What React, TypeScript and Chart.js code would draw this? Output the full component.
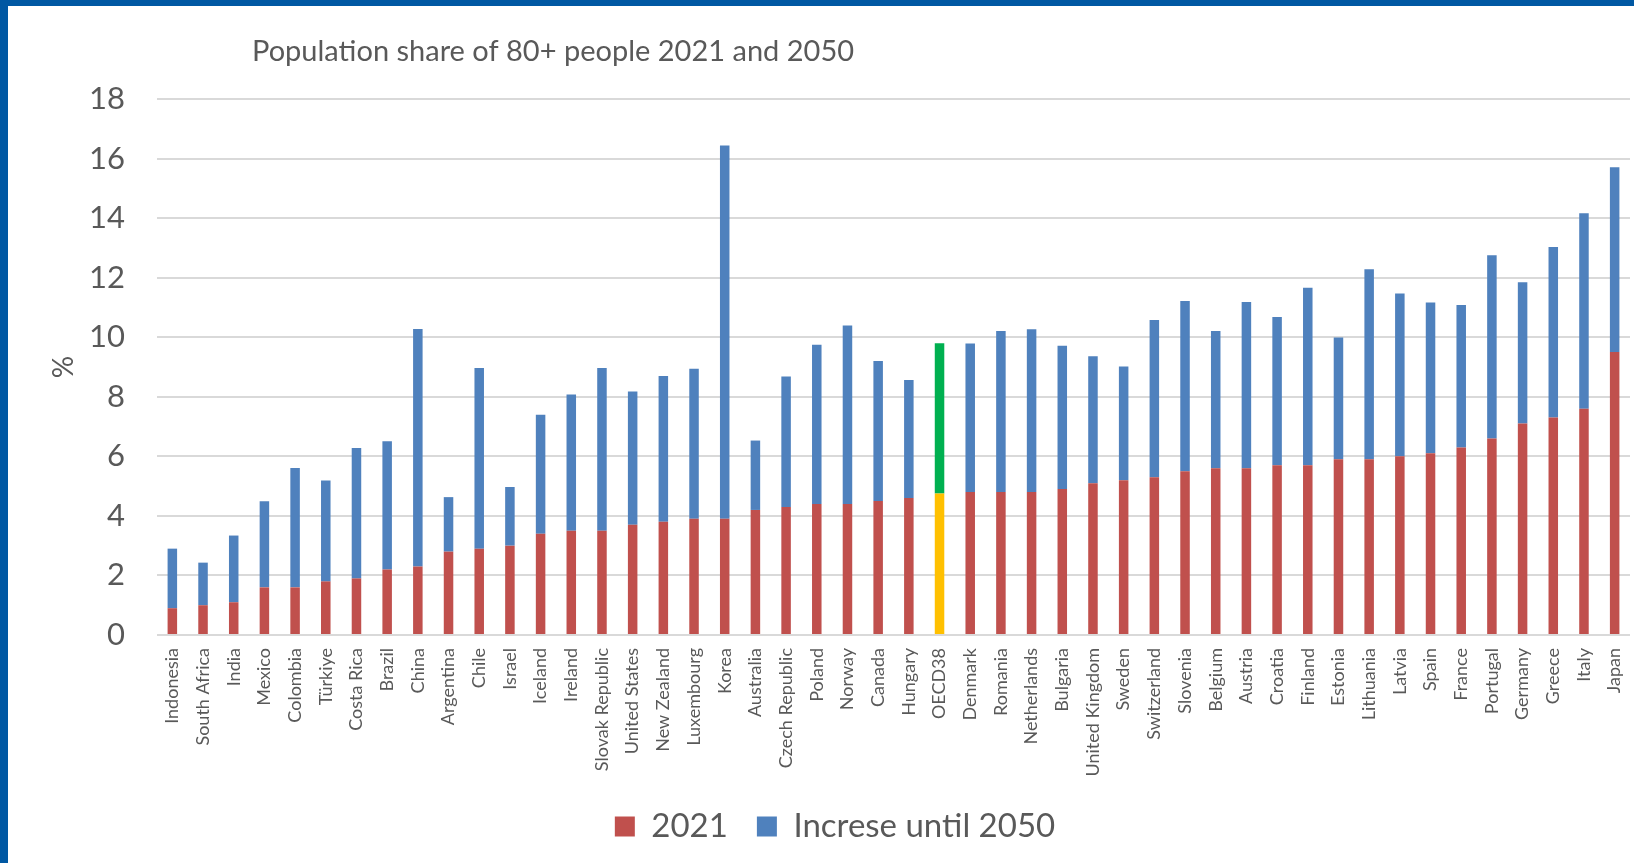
import React, { useEffect, useRef } from 'react';
import { Chart, registerables } from 'chart.js';

Chart.register(...registerables);

const TITLE = 'Population share of 80+ people 2021 and 2050';

const categories = [
  'Indonesia', 'South Africa', 'India', 'Mexico', 'Colombia', 'Türkiye', 'Costa Rica', 'Brazil',
  'China', 'Argentina', 'Chile', 'Israel', 'Iceland', 'Ireland', 'Slovak Republic', 'United States',
  'New Zealand', 'Luxembourg', 'Korea', 'Australia', 'Czech Republic', 'Poland', 'Norway', 'Canada',
  'Hungary', 'OECD38', 'Denmark', 'Romania', 'Netherlands', 'Bulgaria', 'United Kingdom', 'Sweden',
  'Switzerland', 'Slovenia', 'Belgium', 'Austria', 'Croatia', 'Finland', 'Estonia', 'Lithuania',
  'Latvia', 'Spain', 'France', 'Portugal', 'Germany', 'Greece', 'Italy', 'Japan',
];

const share2021 = [
  0.9, 1.0, 1.1, 1.6, 1.6, 1.8, 1.9, 2.2,
  2.3, 2.8, 2.9, 3.0, 3.4, 3.5, 3.5, 3.7,
  3.8, 3.9, 3.9, 4.2, 4.3, 4.4, 4.4, 4.5,
  4.6, 4.75, 4.8, 4.8, 4.8, 4.9, 5.1, 5.2,
  5.3, 5.5, 5.6, 5.6, 5.7, 5.7, 5.9, 5.9,
  6.0, 6.1, 6.3, 6.6, 7.1, 7.3, 7.6, 9.5,
];

const increaseUntil2050 = [
  2.0, 1.43, 2.24, 2.89, 4.01, 3.39, 4.38, 4.31,
  7.98, 1.83, 6.07, 1.97, 4.0, 4.58, 5.47, 4.48,
  4.9, 5.04, 12.54, 2.33, 4.38, 5.35, 5.99, 4.7,
  3.96, 5.05, 4.99, 5.41, 5.47, 4.81, 4.26, 3.82,
  5.28, 5.72, 4.61, 5.58, 4.98, 5.96, 4.09, 6.38,
  5.47, 5.07, 4.78, 6.15, 4.75, 5.73, 6.56, 6.21,
];

const yMin = 0;
const yMax = 18;
const yStep = 2;

const seriesNames = ['2021', 'Increse until 2050'];

const TEXT = '#595959';
const RED = '#C0504D';
const BLUE = '#4F81BD';
const YELLOW = '#FFC000';
const GREEN = '#00B050';
const HIGHLIGHT = 'OECD38';
const FONT = 'Lato, "Open Sans", sans-serif';

const titlePlugin = {
  id: 'customTitle',
  afterDraw(chart: any) {
    const ctx = chart.ctx;
    ctx.save();
    ctx.font = `29px ${FONT}`;
    ctx.fillStyle = TEXT;
    ctx.textBaseline = 'middle';
    ctx.textAlign = 'left';
    ctx.fillText(TITLE, 252, 52);
    ctx.restore();
  },
};

export default function App() {
  const canvasRef = useRef<HTMLCanvasElement | null>(null);

  useEffect(() => {
    if (!canvasRef.current) return;
    const chart = new Chart(canvasRef.current, {
      type: 'bar',
      data: {
        labels: categories,
        datasets: [
          {
            label: seriesNames[0],
            data: share2021,
            backgroundColor: (c: any) => (categories[c.dataIndex] === HIGHLIGHT ? YELLOW : RED),
            borderWidth: 0,
            barPercentage: 0.31,
            categoryPercentage: 1,
          },
          {
            label: seriesNames[1],
            data: increaseUntil2050,
            backgroundColor: (c: any) => (categories[c.dataIndex] === HIGHLIGHT ? GREEN : BLUE),
            borderWidth: 0,
            barPercentage: 0.31,
            categoryPercentage: 1,
          },
        ],
      },
      options: {
        animation: false,
        responsive: false,
        maintainAspectRatio: false,
        devicePixelRatio: 1,
        layout: { padding: { left: 40, right: 4, top: 99, bottom: 10 } },
        plugins: {
          title: { display: false },
          tooltip: { enabled: false },
          legend: {
            position: 'bottom',
            labels: {
              color: TEXT,
              font: { family: FONT, size: 33 },
              boxWidth: 20,
              boxHeight: 20,
              padding: 29,
            },
          },
        },
        scales: {
          x: {
            stacked: true,
            grid: { display: false, drawTicks: false },
            border: { display: false },
            ticks: {
              autoSkip: false,
              maxRotation: 90,
              minRotation: 90,
              padding: 13,
              color: TEXT,
              font: { family: FONT, size: 18 },
            },
            afterFit: (s: any) => {
              s.height = 146;
              s.paddingLeft = 0;
              s.paddingRight = 0;
            },
          },
          y: {
            stacked: true,
            min: yMin,
            max: yMax,
            grid: { color: '#D9D9D9', lineWidth: 2, drawTicks: false },
            border: { display: false },
            ticks: {
              stepSize: yStep,
              padding: 32,
              color: TEXT,
              font: { family: FONT, size: 31 },
            },
            title: {
              display: true,
              text: '%',
              color: TEXT,
              font: { family: FONT, size: 28 },
              padding: { top: 7, bottom: 0 },
            },
            afterFit: (s: any) => { s.width = 117; },
          },
        },
      },
      plugins: [titlePlugin],
    });
    return () => chart.destroy();
  }, []);

  return (
    <div style={{ position: 'fixed', left: 0, top: 0, width: 1634, height: 863, background: '#fff', overflow: 'hidden' }}>
      <canvas ref={canvasRef} width={1634} height={863} style={{ display: 'block', width: 1634, height: 863 }} />
      <div style={{ position: 'absolute', left: 0, top: 0, width: 1634, height: 6, background: '#0058A3' }} />
      <div style={{ position: 'absolute', left: 0, top: 0, width: 8, height: 863, background: '#0058A3' }} />
    </div>
  );
}
